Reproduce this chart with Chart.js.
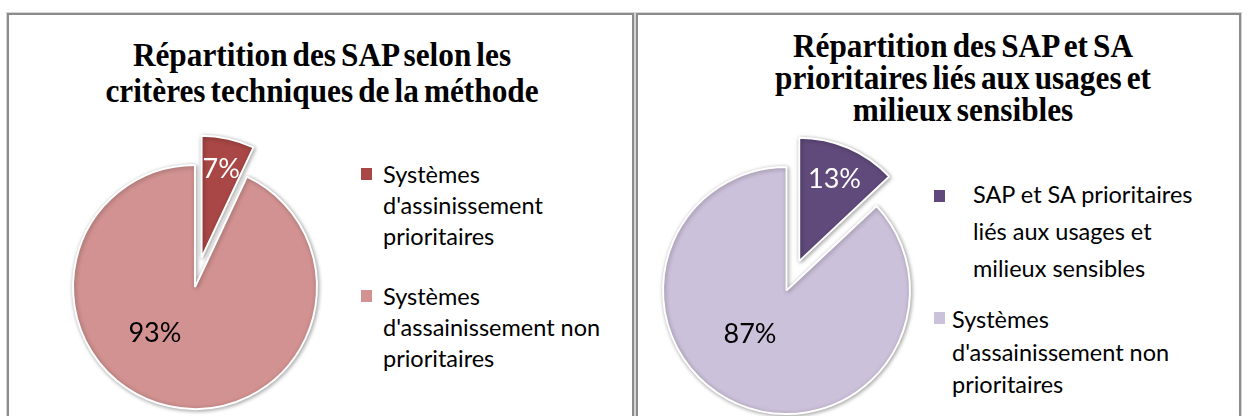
<!DOCTYPE html>
<html lang="fr">
<head>
<meta charset="utf-8">
<script src="https://cdn.jsdelivr.net/npm/chart.js@4.4.1/dist/chart.umd.min.js"></script>
<style>
  html, body { margin: 0; padding: 0; background: #fff; }
  body { position: relative; width: 1248px; height: 416px; overflow: hidden; }
  .panel { position: absolute; top: 13px; height: 480px; box-sizing: border-box;
           border: 2px solid #8c8c8c; box-shadow: 0 0 0 1px #d4d4d4; }
  #panel1 { left: 7px; width: 627px; }
  #panel2 { left: 636px; width: 605px; }
  .title { position: absolute; transform: translateX(-50%) scaleX(0.92); white-space: nowrap; text-align: center;
           font-family: "Liberation Serif", serif; font-weight: bold; font-size: 34px;
           word-spacing: -3px; color: #000; }
  .swatch { position: absolute; width: 11px; height: 12px; }
  .ltext { position: absolute; white-space: nowrap; font-family: Lato, sans-serif; font-size: 23.5px; color: #000; }
  .chart { position: absolute; }
</style>
</head>
<body>
<div class="panel" id="panel1"></div>
<div class="panel" id="panel2"></div>

<div class="title" style="left:322px; top:37px; line-height:36px;">Répartition des SAP selon les<br>critères techniques de la méthode</div>
<div class="title" style="left:963px; top:30px; line-height:32px;">Répartition des SAP et SA<br>prioritaires liés aux usages et<br>milieux sensibles</div>

<div id="legend1"></div>
<div id="legend2"></div>

<div class="chart" style="left:37px; top:129px; width:316px; height:316px;"><canvas id="chart1"></canvas></div>
<div class="chart" style="left:625px; top:129px; width:323px; height:323px;"><canvas id="chart2"></canvas></div>

<script>
// Graphique 1 : critères techniques
const labels1 = [['Systèmes', "d'assinissement", 'prioritaires'], ['Systèmes', "d'assainissement non", 'prioritaires']];
const values1 = [7, 93];
const colors1 = ['#A84745', '#D19291'];

// Graphique 2 : usages et milieux sensibles
const labels2 = [['SAP et SA prioritaires', 'liés aux usages et', 'milieux sensibles'], ['Systèmes', "d'assainissement non", 'prioritaires']];
const values2 = [13, 87];
const colors2 = ['#604A7B', '#CCC1DA'];

// Légende HTML (texte sur plusieurs lignes)
const buildLegend = (id, labels, colors, items) => {
    const box = document.getElementById(id);
    labels.forEach((lines, i) => {
        const it = items[i];
        const sw = document.createElement('span');
        sw.className = 'swatch';
        sw.style.left = it.sx + 'px';
        sw.style.top = it.sy + 'px';
        sw.style.background = colors[i];
        const txt = document.createElement('div');
        txt.className = 'ltext';
        txt.style.left = it.tx + 'px';
        txt.style.top = it.ty + 'px';
        txt.style.lineHeight = it.lh + 'px';
        lines.forEach((line, k) => {
            if (k) txt.appendChild(document.createElement('br'));
            txt.appendChild(document.createTextNode(line));
        });
        box.append(sw, txt);
    });
};

buildLegend('legend1', labels1, colors1, [
    { sx: 361, sy: 168, tx: 383, ty: 159, lh: 31 },
    { sx: 361, sy: 290, tx: 383, ty: 281, lh: 31 }
]);
buildLegend('legend2', labels2, colors2, [
    { sx: 934, sy: 190, tx: 973, ty: 176, lh: 37 },
    { sx: 934, sy: 312, tx: 952, ty: 303, lh: 32.5 }
]);

// Part détachée, ombre et étiquettes en %
const pieDecor = {
    id: 'pieDecor',
    afterDatasetsUpdate(chart, args, opts) {
        const meta = chart.getDatasetMeta(0);
        meta.data.forEach((arc, i) => {
            const d = opts.explode[i] || 0;
            if (!d) return;
            const mid = (arc.startAngle + arc.endAngle) / 2;
            arc.x += Math.cos(mid) * d;
            arc.y += Math.sin(mid) * d;
        });
    },
    beforeDatasetsDraw(chart) {
        const ctx = chart.ctx;
        ctx.save();
        ctx.shadowColor = 'rgba(0, 0, 0, 0.35)';
        ctx.shadowBlur = 4;
        ctx.shadowOffsetX = 1;
        ctx.shadowOffsetY = 1;
    },
    afterDatasetsDraw(chart, args, opts) {
        const ctx = chart.ctx;
        ctx.restore();
        const meta = chart.getDatasetMeta(0);
        const values = chart.data.datasets[0].data;
        ctx.save();
        ctx.font = '27px Lato';
        ctx.textAlign = 'center';
        ctx.textBaseline = 'middle';
        meta.data.forEach((arc, i) => {
            const p = opts.labelPos[i];
            const a = arc.startAngle + (arc.endAngle - arc.startAngle) * p.t;
            const r = arc.outerRadius * p.r;
            ctx.fillStyle = opts.labelColors[i];
            ctx.fillText(values[i] + '%', arc.x + Math.cos(a) * r, arc.y + Math.sin(a) * r);
        });
        ctx.restore();
    }
};

const drawPie = (id, labels, values, colors, radius, explode, labelPos) => {
    const ctx = document.getElementById(id).getContext('2d');
    return new Chart(ctx, {
        type: 'pie',
        data: {
            labels: labels,
            datasets: [{
                data: values,
                backgroundColor: colors,
                borderColor: '#ffffff',
                borderWidth: 2,
                hoverOffset: 0
            }]
        },
        options: {
            responsive: true,
            maintainAspectRatio: false,
            animation: false,
            radius: radius,
            layout: { padding: 0 },
            events: [],
            plugins: {
                legend: { display: false },
                title: { display: false },
                tooltip: { enabled: false },
                pieDecor: {
                    explode: explode,
                    labelPos: labelPos,
                    labelColors: ['#ffffff', '#000000']
                }
            }
        },
        plugins: [pieDecor]
    });
};

drawPie('chart1', labels1, values1, colors1, 122, [30, 0], [{ t: 0.5, r: 0.74 }, { t: 0.585, r: 0.5 }]);
drawPie('chart2', labels2, values2, colors2, 123.5, [32, 0], [{ t: 0.5, r: 0.72 }, { t: 0.553, r: 0.46 }]);
</script>
</body>
</html>
